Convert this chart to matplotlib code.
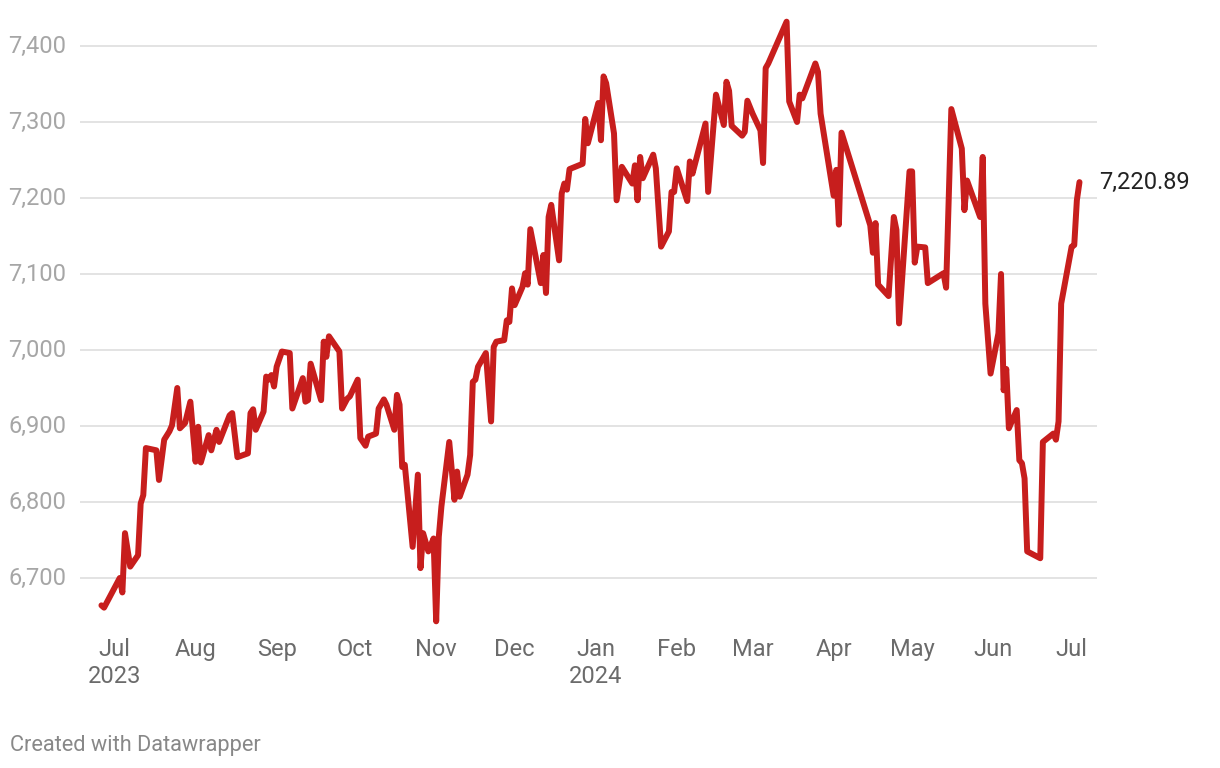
import matplotlib
matplotlib.use("Agg")
import matplotlib.pyplot as plt
import numpy as np
import pandas as pd

plt.rcParams['font.family'] = ['Roboto', 'DejaVu Sans']

# daily closes
dates = [
    '2023-06-26', '2023-06-27', '2023-07-03', '2023-07-04', '2023-07-05', '2023-07-07',
    '2023-07-10', '2023-07-11', '2023-07-12', '2023-07-13', '2023-07-17', '2023-07-18',
    '2023-07-20', '2023-07-22', '2023-07-23', '2023-07-25', '2023-07-26', '2023-07-28',
    '2023-07-30', '2023-08-01', '2023-08-02', '2023-08-03', '2023-08-06', '2023-08-07',
    '2023-08-09', '2023-08-10', '2023-08-14', '2023-08-15', '2023-08-17', '2023-08-21',
    '2023-08-22', '2023-08-23', '2023-08-24', '2023-08-27', '2023-08-28', '2023-08-29',
    '2023-08-30', '2023-08-31', '2023-09-01', '2023-09-03', '2023-09-06', '2023-09-07',
    '2023-09-11', '2023-09-12', '2023-09-13', '2023-09-14', '2023-09-18', '2023-09-19',
    '2023-09-20', '2023-09-21', '2023-09-25', '2023-09-26', '2023-09-28', '2023-09-29',
    '2023-10-02', '2023-10-03', '2023-10-05', '2023-10-06', '2023-10-09', '2023-10-10',
    '2023-10-12', '2023-10-13', '2023-10-16', '2023-10-17', '2023-10-18', '2023-10-19',
    '2023-10-20', '2023-10-23', '2023-10-25', '2023-10-26', '2023-10-27', '2023-10-29',
    '2023-10-31', '2023-11-01', '2023-11-02', '2023-11-03', '2023-11-06', '2023-11-08',
    '2023-11-09', '2023-11-10', '2023-11-13', '2023-11-14', '2023-11-15', '2023-11-16',
    '2023-11-17', '2023-11-20', '2023-11-22', '2023-11-23', '2023-11-24', '2023-11-27',
    '2023-11-28', '2023-11-29', '2023-11-30', '2023-12-01', '2023-12-04', '2023-12-05',
    '2023-12-06', '2023-12-07', '2023-12-11', '2023-12-12', '2023-12-13', '2023-12-14',
    '2023-12-15', '2023-12-18', '2023-12-19', '2023-12-20', '2023-12-21', '2023-12-22',
    '2023-12-27', '2023-12-28', '2023-12-29', '2024-01-02', '2024-01-03', '2024-01-04',
    '2024-01-05', '2024-01-08', '2024-01-09', '2024-01-10', '2024-01-11', '2024-01-15',
    '2024-01-16', '2024-01-17', '2024-01-18', '2024-01-19', '2024-01-23', '2024-01-24',
    '2024-01-26', '2024-01-29', '2024-01-30', '2024-01-31', '2024-02-01', '2024-02-05',
    '2024-02-06', '2024-02-07', '2024-02-12', '2024-02-13', '2024-02-16', '2024-02-19',
    '2024-02-20', '2024-02-21', '2024-02-22', '2024-02-26', '2024-02-27', '2024-02-28',
    '2024-03-01', '2024-03-04', '2024-03-05', '2024-03-06', '2024-03-07', '2024-03-14',
    '2024-03-15', '2024-03-18', '2024-03-19', '2024-03-20', '2024-03-25', '2024-03-26',
    '2024-03-27', '2024-04-01', '2024-04-02', '2024-04-03', '2024-04-04', '2024-04-15',
    '2024-04-16', '2024-04-17', '2024-04-18', '2024-04-22', '2024-04-24', '2024-04-25',
    '2024-04-26', '2024-04-30', '2024-05-01', '2024-05-02', '2024-05-03', '2024-05-06',
    '2024-05-07', '2024-05-13', '2024-05-14', '2024-05-16', '2024-05-20', '2024-05-21',
    '2024-05-22', '2024-05-27', '2024-05-28', '2024-05-29', '2024-05-31', '2024-06-03',
    '2024-06-04', '2024-06-05', '2024-06-06', '2024-06-07', '2024-06-10', '2024-06-11',
    '2024-06-12', '2024-06-13', '2024-06-14', '2024-06-19', '2024-06-20', '2024-06-24',
    '2024-06-25', '2024-06-26', '2024-06-27', '2024-07-01', '2024-07-02', '2024-07-03',
    '2024-07-04',
]
values = [
    6664, 6661, 6700, 6681, 6759, 6715,
    6730, 6798, 6809, 6871, 6868, 6829,
    6882, 6893, 6901, 6950, 6897, 6904,
    6932, 6853, 6899, 6852, 6888, 6868,
    6895, 6879, 6914, 6917, 6859, 6864,
    6917, 6922, 6895, 6919, 6965, 6961,
    6967, 6952, 6978, 6998, 6996, 6923,
    6963, 6932, 6934, 6982, 6934, 7011,
    6991, 7018, 6998, 6923, 6936, 6939,
    6961, 6884, 6874, 6886, 6890, 6923,
    6935, 6928, 6895, 6941, 6928, 6846,
    6849, 6741, 6836, 6713, 6759, 6735,
    6752, 6643, 6754, 6794, 6879, 6803,
    6840, 6807, 6836, 6862, 6958, 6961,
    6978, 6996, 6906, 7004, 7011, 7013,
    7039, 7037, 7081, 7059, 7083, 7101,
    7086, 7159, 7088, 7125, 7075, 7175,
    7191, 7118, 7206, 7219, 7211, 7238,
    7245, 7304, 7272, 7325, 7276, 7360,
    7351, 7285, 7197, 7219, 7241, 7219,
    7243, 7197, 7254, 7226, 7257, 7239,
    7136, 7156, 7208, 7208, 7239, 7196,
    7248, 7232, 7298, 7208, 7336, 7296,
    7353, 7341, 7295, 7282, 7287, 7328,
    7311, 7289, 7246, 7371, 7377, 7432,
    7327, 7300, 7336, 7331, 7377, 7366,
    7311, 7203, 7237, 7165, 7286, 7164,
    7128, 7167, 7086, 7071, 7175, 7158,
    7035, 7235, 7235, 7115, 7136, 7135,
    7088, 7101, 7082, 7317, 7265, 7184,
    7223, 7175, 7254, 7061, 6969, 7022,
    7100, 6947, 6975, 6897, 6921, 6855,
    6851, 6831, 6735, 6726, 6879, 6890,
    6882, 6906, 7061, 7136, 7138, 7197,
    7220.89,
]
y_ticks = [6700, 6800, 6900, 7000, 7100, 7200, 7300, 7400]
month_ticks = pd.date_range('2023-07-01', '2024-07-01', freq='MS')

dates = pd.to_datetime(dates)

fig = plt.figure(figsize=(12.2, 7.68), dpi=100)
ax = fig.add_axes([80 / 1220, 1 - 630 / 768, (1097 - 80) / 1220, 615 / 768])

ax.plot(dates, values, color='#c71e1d', lw=4.3, solid_joinstyle='round',
        solid_capstyle='round', zorder=3)

ax.set_ylim(7400 - (630 - 46) / 0.76, 7400 + 31 / 0.76)
ax.set_xlim(pd.Timestamp('2023-07-01') - pd.Timedelta(days=13.2),
            pd.Timestamp('2023-07-01') + pd.Timedelta(days=375.7))

# horizontal grid with labels on the left
for v in y_ticks:
    ax.axhline(v, color='#e3e3e3', lw=1.4, zorder=1)
    ax.text(-72 / 1017, v, f'{v:,}', transform=ax.get_yaxis_transform(),
            ha='left', va='center', fontsize=17, color='#a6a6a6')

labels = []
for m in month_ticks:
    lab = m.strftime('%b')
    if (m.month == 7 and m.year == 2023) or m.month == 1:
        lab += '\n' + str(m.year)
    labels.append(lab)
ax.set_xticks(month_ticks)
ax.set_xticklabels(labels, fontsize=17, color='#6b6b6b', linespacing=1.25, va='top')
ax.tick_params(axis='x', length=0, pad=5.5)
ax.set_yticks([])
for s in ax.spines.values():
    s.set_visible(False)

ax.annotate(f'{values[-1]:,.2f}', (dates[-1], values[-1]), xytext=(14, 0),
            textcoords='offset points', ha='left', va='center', fontsize=17, color='#222222')

fig.text(10 / 1220, 1 - 745 / 768, 'Created with Datawrapper', fontsize=15.7,
         color='#888888', ha='left', va='center')

fig.savefig('out.png', dpi=100)
